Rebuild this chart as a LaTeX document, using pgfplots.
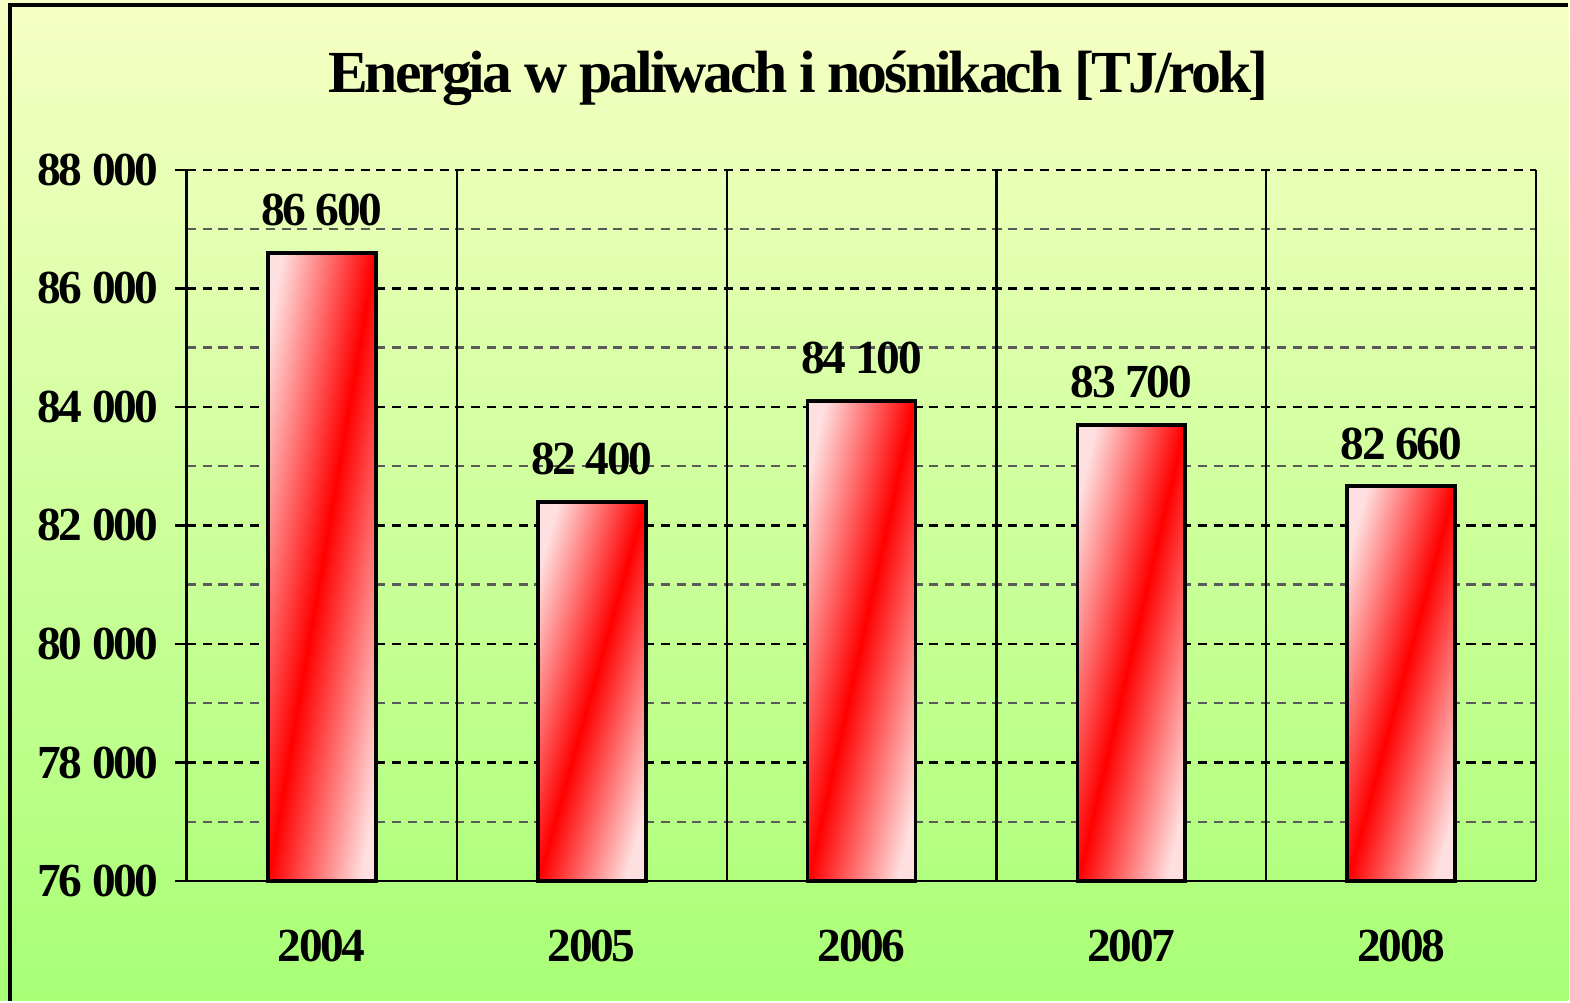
\documentclass[border=0pt]{standalone}
\usepackage{fontspec}
\setmainfont{Liberation Serif}
\newfontfamily\tightfont[LetterSpace=-5]{Liberation Serif}
\usepackage{pgfplots}
\pgfplotsset{compat=1.18}
\definecolor{bgtop}{RGB}{246,255,196}
\definecolor{bgbot}{RGB}{168,255,118}
\definecolor{barlight}{RGB}{255,224,224}
\definecolor{minorgrid}{RGB}{90,90,90}

\pgfplotsset{
  yearbar/.style={
    ybar, bar width=0.4, bar shift=0pt,
    draw=black, line width=1.1pt,
    top color=barlight, bottom color=barlight, middle color=red,
    shading angle=#1,
  },
}

\begin{document}
\begin{tikzpicture}
  % background and frame (1 px of the reference = 0.01cm)
  \fill[top color=bgtop, bottom color=bgbot] (-1.87,-1.20) rectangle (13.83,8.82);
  \draw[line width=1pt] (-1.77,-1.20) -- (-1.77,8.77) -- (13.83,8.77);
  \node[font=\tightfont\bfseries\fontsize{17}{20}\selectfont, anchor=base] at (6.12,7.89)
    {Energia w paliwach i nośnikach [TJ/rok]};
  \begin{axis}[
    at={(0,0)}, anchor=south west,
    scale only axis, width=13.51cm, height=7.12cm,
    xmin=-0.5, xmax=4.5, ymin=76000, ymax=88000,
    axis x line*=bottom, axis y line*=left,
    axis line style={line width=0.8pt, -},
    xtick={0,1,2,3,4},
    xticklabels={2004,2005,2006,2007,2008},
    x tick label style={yshift=-0.25cm},
    xtick style={draw=none},
    extra x ticks={-0.5,0.5,1.5,2.5,3.5,4.5},
    extra x tick labels={},
    extra x tick style={
      grid=major, major grid style={black, line width=0.6pt, solid},
      tick style={black, line width=0.6pt},
      major tick length=0.13cm, tick align=outside,
    },
    ytick={76000,78000,...,88000},
    minor ytick={77000,79000,...,87000},
    scaled y ticks=false,
    ymajorgrids, yminorgrids,
    major grid style={black, line width=0.7pt, dash pattern=on 2.6pt off 1.9pt},
    minor grid style={minorgrid, line width=0.7pt, dash pattern=on 2.6pt off 1.9pt},
    ytick style={black, line width=0.7pt},
    minor tick length=0pt,
    major tick length=0.12cm, tick align=outside,
    /pgf/number format/.cd, fixed, assume math mode=true, 1000 sep={\ },
    /pgfplots/.cd,
    tick label style={font=\tightfont\bfseries\fontsize{13.5}{16}\selectfont},
    y tick label style={xshift=-0.04cm},
    nodes near coords,
    every node near coord/.append style={
      font=\tightfont\bfseries\fontsize{13.5}{16}\selectfont,
      anchor=south, yshift=0.13cm, black,
    },
    clip=false,
  ]
    \addplot[yearbar=80.3] coordinates {(0,86600)};
    \addplot[yearbar=74.3] coordinates {(1,82400)};
    \addplot[yearbar=77.5] coordinates {(2,84100)};
    \addplot[yearbar=76.8] coordinates {(3,83700)};
    \addplot[yearbar=74.8] coordinates {(4,82660)};
  \end{axis}
\end{tikzpicture}
\end{document}
